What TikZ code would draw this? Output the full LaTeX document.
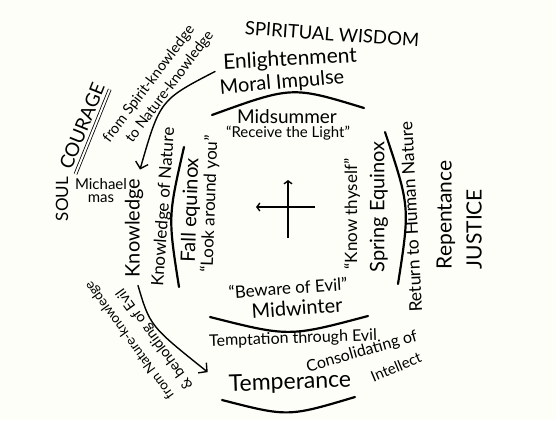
\documentclass[tikz,border=0pt]{standalone}
\usepackage{fontspec}
\setmainfont{Lato}
\usetikzlibrary{arrows.meta}

\definecolor{paper}{RGB}{254,254,249}

\begin{document}
\begin{tikzpicture}[x=1pt, y=-1pt,
  every node/.style={inner sep=0pt},
  lab/.style={font=\fontsize{#1}{#1}\selectfont},
  rim/.style={line width=2.2pt, line cap=round},
  flow/.style={line width=1.4pt, line cap=round,
    -{Straight Barb[length=6pt, width=13pt, line width=1.4pt]}},
  axis/.style={line width=1.7pt,
    -{Straight Barb[length=3pt, width=8pt, line width=1.4pt]}}]

  \fill[paper] (0,0) rectangle (556,420);
  \useasboundingbox (0,0) rectangle (556,420);

  % -- Top: Midsummer --
  \node[lab=18.5, rotate=-4] (wis) at (332,34) {SPIRITUAL WISDOM};
  \node[lab=21, rotate=3] (enl) at (290,60) {Enlightenment};
  \node[lab=20, rotate=5] (mor) at (282,83) {Moral Impulse};
  \draw[rim] (212,115) .. controls (292,86) .. (364,108);
  \node[lab=19] (msu) at (287,117) {Midsummer};
  \node[lab=15] (rcv) at (288,133) {``Receive the Light''};

  % -- Left: Fall equinox --
  \node[lab=20, rotate=88] (fal) at (191,210) {Fall equinox};
  \node[lab=17, rotate=88] (lok) at (210,204) {``Look around you''};
  \draw[rim] (184,147) .. controls (168,217) .. (179,287);
  \node[lab=17, rotate=86] (kon) at (164,207) {Knowledge of Nature};
  \node[lab=20, rotate=90] (knw) at (134,228) {Knowledge};
  \node[lab=15, align=center] (mic) at (101,191) {Michael\\[-2pt]mas};
  \node[lab=17, rotate=90] (soul) at (62,199) {SOUL};
  \node[lab=19, rotate=68] (cour) at (82,126) {COURAGE};
  \draw[double, double distance=2pt, line width=0.8pt]
    ([shift={(4,3)}]cour.south west) -- ([shift={(4,3)}]cour.south east);

  % -- Right: Spring Equinox --
  \node[lab=17, rotate=90] (kth) at (352,214) {``Know thyself''};
  \node[lab=20, rotate=90] (spr) at (379,207) {Spring Equinox};
  \draw[rim] (385,132) .. controls (410,207) .. (398,284);
  \node[lab=17.5, rotate=93] (ret) at (411,217) {Return to Human Nature};
  \node[lab=21, rotate=90] (rep) at (446,215) {Repentance};
  \node[lab=21, rotate=90] (jus) at (474,229) {JUSTICE};

  % -- Bottom: Midwinter --
  \node[lab=17, rotate=4] (bew) at (288,288) {``Beware of Evil''};
  \node[lab=20, rotate=4] (mwi) at (297,308) {Midwinter};
  \draw[rim] (210,317) .. controls (289,337) .. (368,316);
  \node[lab=16, rotate=2] (tem) at (293,339) {Temptation through Evil};
  \node[lab=16, rotate=16] (con) at (362,352) {Consolidating of};
  \node[lab=15, rotate=23] (int) at (396,367) {Intellect};
  \node[lab=23, rotate=2] (tmp) at (290,383) {Temperance};
  \draw[rim] (222,400) .. controls (288,417) .. (355,397);

  % -- Flow between the seasons --
  \node[lab=14.5, rotate=53] (fsk) at (149,84) {from Spirit-knowledge};
  \node[lab=14.5, rotate=53] (tnk) at (170,87) {to Nature-knowledge};
  \draw[flow] ([shift={(-8,8)}]enl.west) .. controls (160,100) .. ([shift={(6,-9)}]knw.east);
  \node[lab=13.5, rotate=126] (fnk) at (130,340) {from Nature-knowledge};
  \node[lab=14.5, rotate=126] (beh) at (155,339) {\& beholding of Evil};
  \draw[flow] ([shift={(4,8)}]knw.west) .. controls (150,326) .. ([shift={(-21,-13)}]tmp.west);

  % -- Cross --
  \draw[axis] (288,238) -- (288,180);
  \draw[axis] (315,207) -- (256,207);

\end{tikzpicture}
\end{document}
